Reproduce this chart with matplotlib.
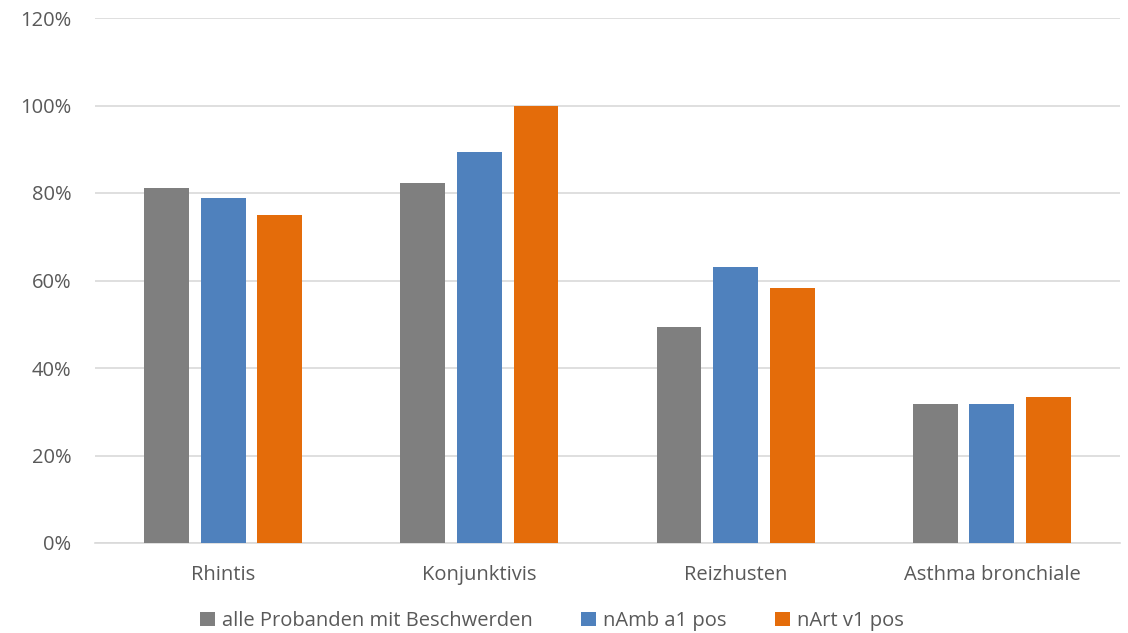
import matplotlib
matplotlib.use("Agg")
import matplotlib.pyplot as plt
import numpy as np
from matplotlib.ticker import PercentFormatter

categories = ["Rhintis", "Konjunktivis", "Reizhusten", "Asthma bronchiale"]
series_names = ["alle Probanden mit Beschwerden", "nAmb a1 pos", "nArt v1 pos"]
alle = [81.1, 82.3, 49.4, 31.8]
namb = [78.9, 89.4, 63.1, 31.7]
nart = [75.0, 100.0, 58.3, 33.4]
colors = ["#7F7F7F", "#4F81BD", "#E46C0A"]
yticks = [0, 20, 40, 60, 80, 100, 120]

plt.rcParams["font.family"] = ["Open Sans", "DejaVu Sans"]
text_color = "#595959"

fig = plt.figure(figsize=(11.28, 6.33), dpi=100)
ax = fig.add_axes([95 / 1128, 1 - 543 / 633, 1025 / 1128, 525 / 633])

x = np.arange(len(categories))
width = 0.175
step = 0.221
handles = []
for i, (vals, name, c) in enumerate(zip([alle, namb, nart], series_names, colors)):
    h = ax.bar(x + (i - 1) * step, vals, width, color=c, label=name, zorder=3)
    handles.append(h)

ax.set_xlim(-0.5, len(categories) - 0.5)
ax.set_ylim(0, 120)
ax.set_yticks(yticks)
ax.yaxis.set_major_formatter(PercentFormatter(decimals=0))
ax.set_xticks(x)
ax.set_xticklabels(categories)
ax.grid(axis="y", color="#D9D9D9", linewidth=1.2, zorder=0)
for s in ["top", "right", "left"]:
    ax.spines[s].set_visible(False)
ax.spines["bottom"].set_color("#D9D9D9")
ax.spines["bottom"].set_linewidth(1.2)
ax.tick_params(axis="both", length=0, labelsize=14.5, colors=text_color)
ax.tick_params(axis="x", pad=16)
ax.tick_params(axis="y", pad=17)

leg = fig.legend(handles=handles, labels=series_names, loc="center",
                 bbox_to_anchor=(552 / 1128, 1 - 621 / 633), ncol=3, frameon=False,
                 fontsize=14.5, handlelength=0.75, handleheight=0.75, handletextpad=0.35,
                 columnspacing=2.4, labelcolor=text_color)

fig.savefig("out.png", dpi=100)
